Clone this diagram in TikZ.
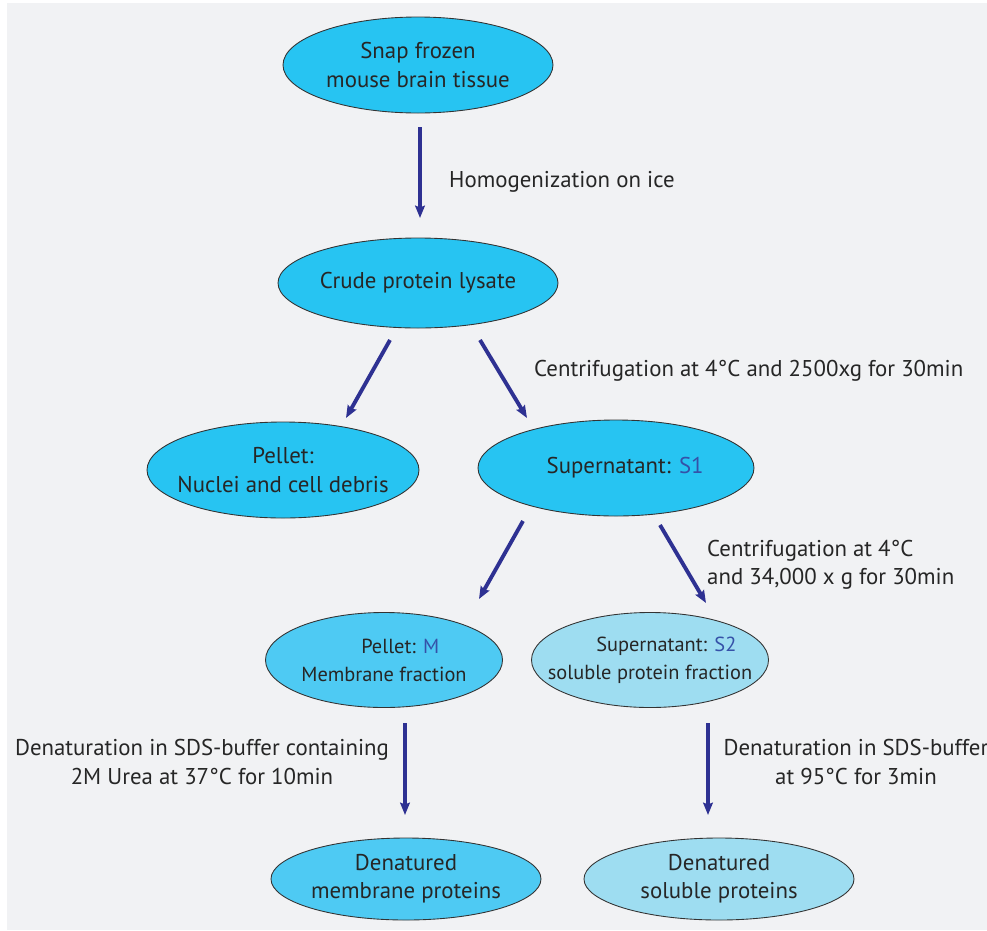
\documentclass[tikz,border=0pt]{standalone}
\usepackage{fontspec}
\setmainfont{PT Sans}
\usepackage{tikz}
\usetikzlibrary{
    calc,
    shapes.geometric,
    arrows.meta
}
\definecolor{bgray}{HTML}{F1F2F4}
\definecolor{cyanA}{HTML}{27C4F2}
\definecolor{cyanB}{HTML}{4ECAF3}
\definecolor{cyanC}{HTML}{9EDDF1}
\definecolor{flowblue}{HTML}{2E3192}
\definecolor{tagblue}{HTML}{3551A8}
\newcommand{\tag}[1]{\textcolor{tagblue}{#1}}

\begin{document}
\begin{tikzpicture}[x=0.02cm,y=-0.02cm,
  every node/.style={font=\fontsize{13}{16}\selectfont,text=black!85},
  blob/.style={ellipse,draw=black!80,line width=0.5pt,inner xsep=-3cm,inner ysep=-1cm,align=center},
  small/.style={font=\fontsize{11.6}{16}\selectfont},
  flow/.style={draw=flowblue,line width=2.2pt,-{Stealth[length=7pt,width=5.5pt,inset=1pt]}},
  note/.style={align=left,anchor=west}]
\useasboundingbox (0,0) rectangle (987,930);
\fill[bgray] (7,3) rectangle (987,930);

\node[blob,fill=cyanA,minimum width={270*0.02cm},minimum height={96*0.02cm}] (snap) at (418,65) {Snap frozen\\mouse brain tissue};
\node[blob,fill=cyanA,minimum width={280*0.02cm},minimum height={90*0.02cm}] (crude) at (418,283) {Crude protein lysate};
\node[blob,fill=cyanA,minimum width={272*0.02cm},minimum height={96*0.02cm}] (debris) at (283,470) {Pellet:\\Nuclei and cell debris};
\node[blob,fill=cyanA,minimum width={276*0.02cm},minimum height={96*0.02cm}] (sone) at (616,468) {\hspace*{0.8em}Supernatant: \tag{S1}};
\node[blob,small,fill=cyanB,minimum width={237*0.02cm},minimum height={95*0.02cm}] (mfrac) at (384,660) {\hspace*{1.6em}Pellet: \tag{M}\\Membrane fraction};
\node[blob,small,fill=cyanC,minimum width={237*0.02cm},minimum height={95*0.02cm}] (stwo) at (650,660) {\hspace*{1.6em}Supernatant: \tag{S2}\\soluble protein fraction};
\node[blob,fill=cyanB,minimum width={270*0.02cm},minimum height={82*0.02cm}] (dmem) at (406,879) {Denatured\\membrane proteins};
\node[blob,fill=cyanC,minimum width={270*0.02cm},minimum height={82*0.02cm}] (dsol) at (719,879) {Denatured\\soluble proteins};

\draw[flow] ($(snap)+(2,62)$) -- ($(crude)+(2,-65)$);
\draw[flow] ($(crude)+(-28,57)$) -- ($(debris)+(63,-52)$);
\draw[flow] ($(crude)+(62,57)$) -- ($(sone)+(-89,-50)$);
\draw[flow] ($(sone)+(-93,53)$) -- ($(mfrac)+(95,-61)$);
\draw[flow] ($(sone)+(44,57)$) -- ($(stwo)+(56,-57)$);
\draw[flow] ($(mfrac)+(21,63)$) -- ($(dmem)+(-1,-64)$);
\draw[flow] ($(stwo)+(58,63)$) -- ($(dsol)+(-11,-64)$);

\node[note] (homog) at (443,182) {Homogenization on ice};
\node[note] (spinA) at (528,371) {Centrifugation at 4°C and 2500xg for 30min};
\node[note] (spinB) at (701,565) {Centrifugation at 4°C\\and 34,000 x g for 30min};
\node[align=center] (urea) at (202,762) {Denaturation in SDS-buffer containing\\2M Urea at 37°C for 10min};
\node[align=center] (boil) at (856,762) {Denaturation in SDS-buffer\\at 95°C for 3min};
\end{tikzpicture}
\end{document}
